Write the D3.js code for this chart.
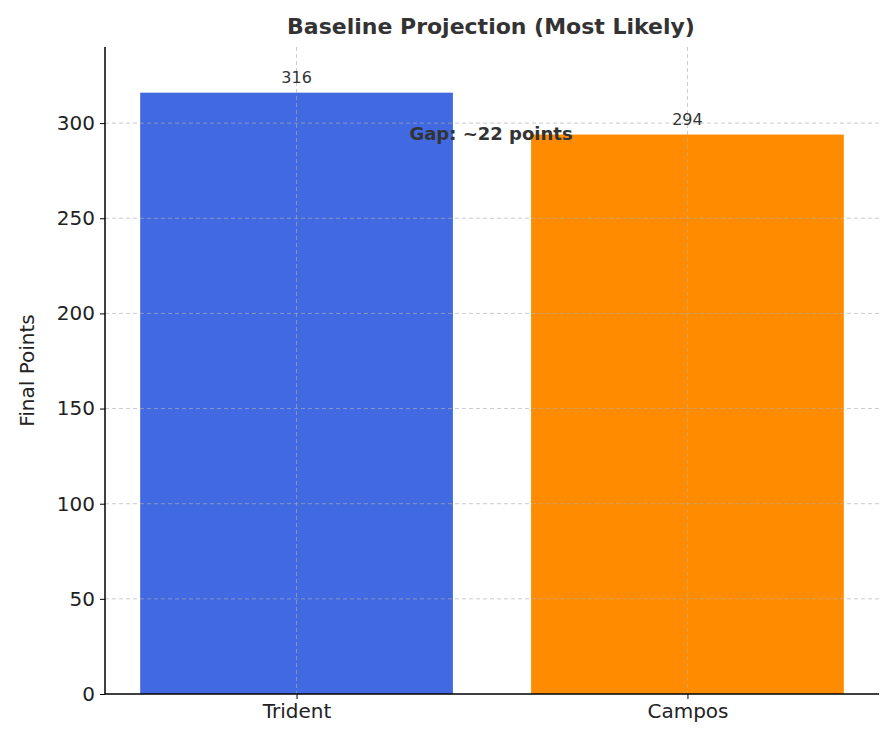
<!DOCTYPE html>
<html><head><meta charset="utf-8">
<script src="https://cdn.jsdelivr.net/npm/d3@7"></script>
<style>body{margin:0;background:#fff}text{font-family:"DejaVu Sans",sans-serif}</style>
</head><body>
<svg id="c" width="894" height="742"></svg>
<script>
const categories = ["Trident", "Campos"];
const values = [316, 294];
const colors = ["#4169E1", "#FF8C00"];
const yTicks = [0, 50, 100, 150, 200, 250, 300];
const title = "Baseline Projection (Most Likely)";
const gapText = "Gap: ~22 points";

const svg = d3.select("#c");
const m = {l:105, r:879, t:47, b:694};
const x = d3.scaleLinear().domain([-0.49, 1.49]).range([m.l, m.r]);
const y = d3.scaleLinear().domain([0, 340]).range([m.b, m.t]);
const bw = x(0.4) - x(-0.4);

svg.selectAll("rect.bar").data(values).join("rect")
  .attr("x", (d,i)=>x(i)-bw/2).attr("width", bw)
  .attr("y", d=>y(d)).attr("height", d=>y(0)-y(d))
  .attr("fill", (d,i)=>colors[i]);

// grid
const g = svg.append("g").attr("stroke","#b0b0b0").attr("stroke-dasharray","4,3").attr("stroke-width",0.8).attr("opacity",0.8);
yTicks.slice(1).forEach(t=>g.append("line").attr("x1",m.l).attr("x2",m.r).attr("y1",y(t)).attr("y2",y(t)));
categories.forEach((c,i)=>g.append("line").attr("x1",x(i)).attr("x2",x(i)).attr("y1",m.t).attr("y2",m.b));

const ya = svg.append("g").attr("transform",`translate(${m.l},0)`)
  .call(d3.axisLeft(y).tickValues(yTicks).tickSize(5).tickPadding(5));
const xa = svg.append("g").attr("transform",`translate(0,${m.b})`)
  .call(d3.axisBottom(x).tickValues([0,1]).tickFormat(i=>categories[i]).tickSize(5).tickPadding(5));
[ya,xa].forEach(a=>{a.select(".domain").attr("stroke","#000").attr("stroke-width",1.5);
  a.selectAll("text").attr("font-size",20).attr("fill","#222");
  a.selectAll(".tick line").attr("stroke","#000");});
xa.select(".domain").attr("d",`M${m.l},0H${m.r}`);
ya.select(".domain").attr("d",`M0,${m.b}V${m.t}`);

svg.selectAll("text.val").data(values).join("text")
  .attr("x",(d,i)=>x(i)).attr("y",d=>y(d)-10).attr("text-anchor","middle")
  .attr("font-size",16).attr("fill","#333").text(d=>d);

svg.append("text").attr("x",491).attr("y",34).attr("text-anchor","middle")
  .attr("font-size",22).attr("font-weight","bold").attr("fill","#333").text(title);
svg.append("text").attr("x",491).attr("y",y(295)+7).attr("text-anchor","middle")
  .attr("font-size",18).attr("font-weight","bold").attr("fill","#333").text(gapText);
svg.append("text").attr("transform",`translate(34,${(m.t+m.b)/2}) rotate(-90)`)
  .attr("text-anchor","middle").attr("font-size",20).attr("fill","#222").text("Final Points");
</script></body></html>
